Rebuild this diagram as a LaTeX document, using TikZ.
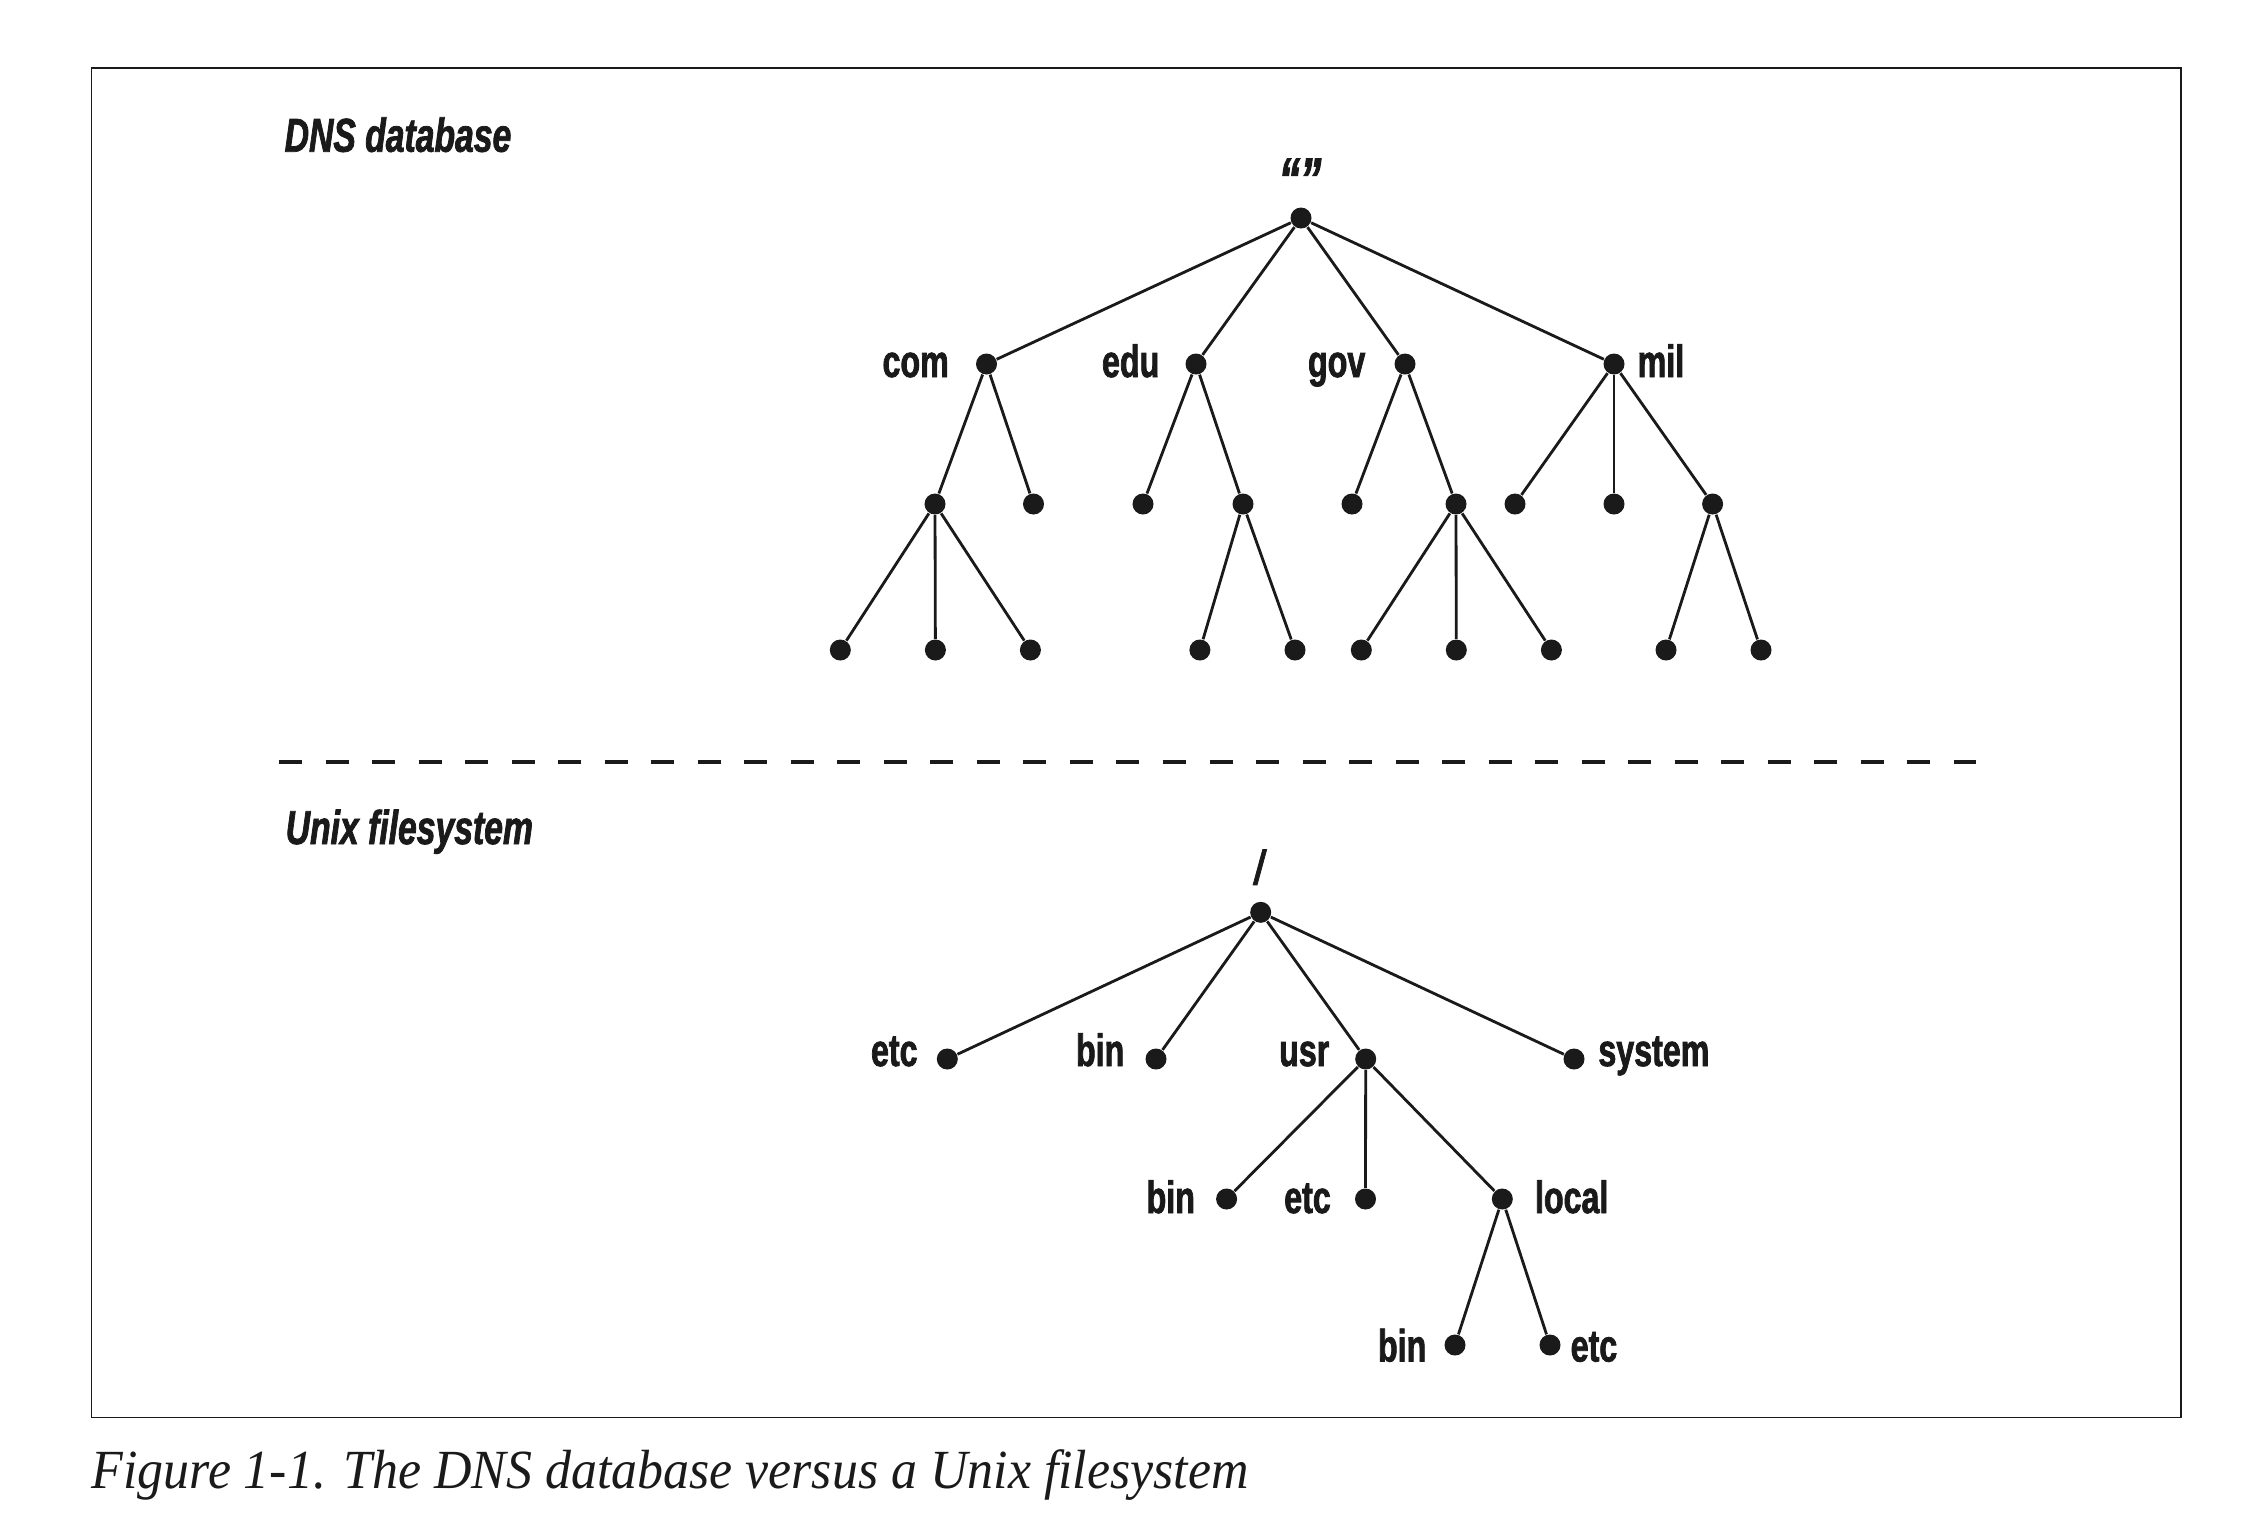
\documentclass[tikz,border=0pt]{standalone}
\usepackage{fontspec}
\usetikzlibrary{calc}
\newfontfamily\lblfont[FakeStretch=0.71,FakeBold=1.6]{Liberation Sans}
\newfontfamily\capfont[FakeStretch=0.94]{Liberation Serif}
\definecolor{ink}{RGB}{26,26,26}
\begin{document}
\begin{tikzpicture}[x=0.01cm,y=-0.01cm,
  dot/.style={circle,fill=ink,inner sep=0pt,minimum size=0.21cm},
  edge/.style={draw=ink,line width=0.8pt},
  lbl/.style={inner sep=0pt,text=ink,font=\lblfont\bfseries\fontsize{12.9}{15}\selectfont},
  head/.style={inner sep=0pt,text=ink,font=\lblfont\bfseries\itshape\fontsize{13.5}{16}\selectfont},
  quot/.style={inner sep=0pt,text=ink,font=\lblfont\bfseries\itshape\fontsize{17}{20}\selectfont},
  captext/.style={inner sep=0pt,text=ink,font=\capfont\itshape\fontsize{15.7}{19}\selectfont},
  sep/.style={draw=ink,line width=0.9pt,dash pattern=on 6.54pt off 6.69pt},
  frame/.style={draw=ink,line width=0.45pt}]
\useasboundingbox (0,0) rectangle (2268,1526);
\fill[white] (0,0) rectangle (2268,1526);
\draw[frame] (91.3,68) rectangle (2181,1417.5);

% headings
\node[head,anchor=base west] (hdns) at (284,151.7) {DNS database};
\node[head,anchor=base west] (hunix) at (285,844) {Unix filesystem};

% separator
\coordinate (s1) at (279,762);
\coordinate (s2) at (1976,762);
\draw[sep] (s1) -- (s2);

% ---------------- DNS tree ----------------
\node[dot] (root) at (1301,218) {};
\node[quot,anchor=north] (qroot) at (1300,158) {“”};
\node[dot] (com) at (986.5,364) {};
\node[dot] (edu) at (1196,364) {};
\node[dot] (gov) at (1405,364) {};
\node[dot] (mil) at (1614,364) {};
\node[dot] (c1) at (935,504) {};
\node[dot] (c2) at (1033.5,504) {};
\node[dot] (e1) at (1143,504) {};
\node[dot] (e2) at (1243,504) {};
\node[dot] (g1) at (1352,504) {};
\node[dot] (g2) at (1456,504) {};
\node[dot] (m1) at (1515,504) {};
\node[dot] (m2) at (1614,504) {};
\node[dot] (m3) at (1712.6,504) {};
\node[dot] (c1a) at (840.3,650) {};
\node[dot] (c1b) at (935.4,650) {};
\node[dot] (c1c) at (1030.4,650) {};
\node[dot] (e2a) at (1199.9,650) {};
\node[dot] (e2b) at (1295,650) {};
\node[dot] (g2a) at (1361.3,650) {};
\node[dot] (g2b) at (1456.3,650) {};
\node[dot] (g2c) at (1551.4,650) {};
\node[dot] (m3a) at (1666,650) {};
\node[dot] (m3b) at (1761,650) {};

\node[lbl,anchor=base east] (tcom) at ($(com.center)+(-37,13)$) {com};
\node[lbl,anchor=base east] (tedu) at ($(edu.center)+(-36,13)$) {edu};
\node[lbl,anchor=base east] (tgov) at ($(gov.center)+(-39,13)$) {gov};
\node[lbl,anchor=base west] (tmil) at ($(mil.center)+(23,13)$) {mil};

\foreach \a/\b in {root/com,root/edu,root/gov,root/mil,
  com/c1,com/c2,edu/e1,edu/e2,gov/g1,gov/g2,mil/m1,mil/m2,mil/m3,
  c1/c1a,c1/c1b,c1/c1c,e2/e2a,e2/e2b,g2/g2a,g2/g2b,g2/g2c,m3/m3a,m3/m3b}
  \draw[edge] (\a) -- (\b);

% ---------------- Unix tree ----------------
\node[dot] (uroot) at (1260.7,912.3) {};
\node[head,anchor=base] (slash) at (1259,884) {/};
\node[dot] (uetc) at (947.3,1059) {};
\node[dot] (ubin) at (1156,1059) {};
\node[dot] (uusr) at (1365.7,1059) {};
\node[dot] (usys) at (1574,1059) {};
\node[dot] (ubin2) at (1226.6,1199) {};
\node[dot] (uetc2) at (1365.5,1199) {};
\node[dot] (uloc) at (1502.3,1199) {};
\node[dot] (ubin3) at (1455,1345) {};
\node[dot] (uetc3) at (1550,1345) {};

\node[lbl,anchor=base east] (tuetc) at ($(uetc.center)+(-29,7)$) {etc};
\node[lbl,anchor=base east] (tubin) at ($(ubin.center)+(-31,7)$) {bin};
\node[lbl,anchor=base east] (tuusr) at ($(uusr.center)+(-35.7,7)$) {usr};
\node[lbl,anchor=base west] (tusys) at ($(usys.center)+(23.7,7)$) {system};
\node[lbl,anchor=base east] (tubin2) at ($(ubin2.center)+(-31,14)$) {bin};
\node[lbl,anchor=base east] (tuetc2) at ($(uetc2.center)+(-34,14)$) {etc};
\node[lbl,anchor=base west] (tuloc) at ($(uloc.center)+(32,14)$) {local};
\node[lbl,anchor=base east] (tubin3) at ($(ubin3.center)+(-28,16.5)$) {bin};
\node[lbl,anchor=base west] (tuetc3) at ($(uetc3.center)+(20,16.5)$) {etc};

\foreach \a/\b in {uroot/uetc,uroot/ubin,uroot/uusr,uroot/usys,
  uusr/ubin2,uusr/uetc2,uusr/uloc,uloc/ubin3,uloc/uetc3}
  \draw[edge] (\a) -- (\b);

% caption
\node[captext,anchor=base west] (cap) at (91,1488.3) {Figure 1-1. The DNS database versus a Unix filesystem};
\end{tikzpicture}
\end{document}
